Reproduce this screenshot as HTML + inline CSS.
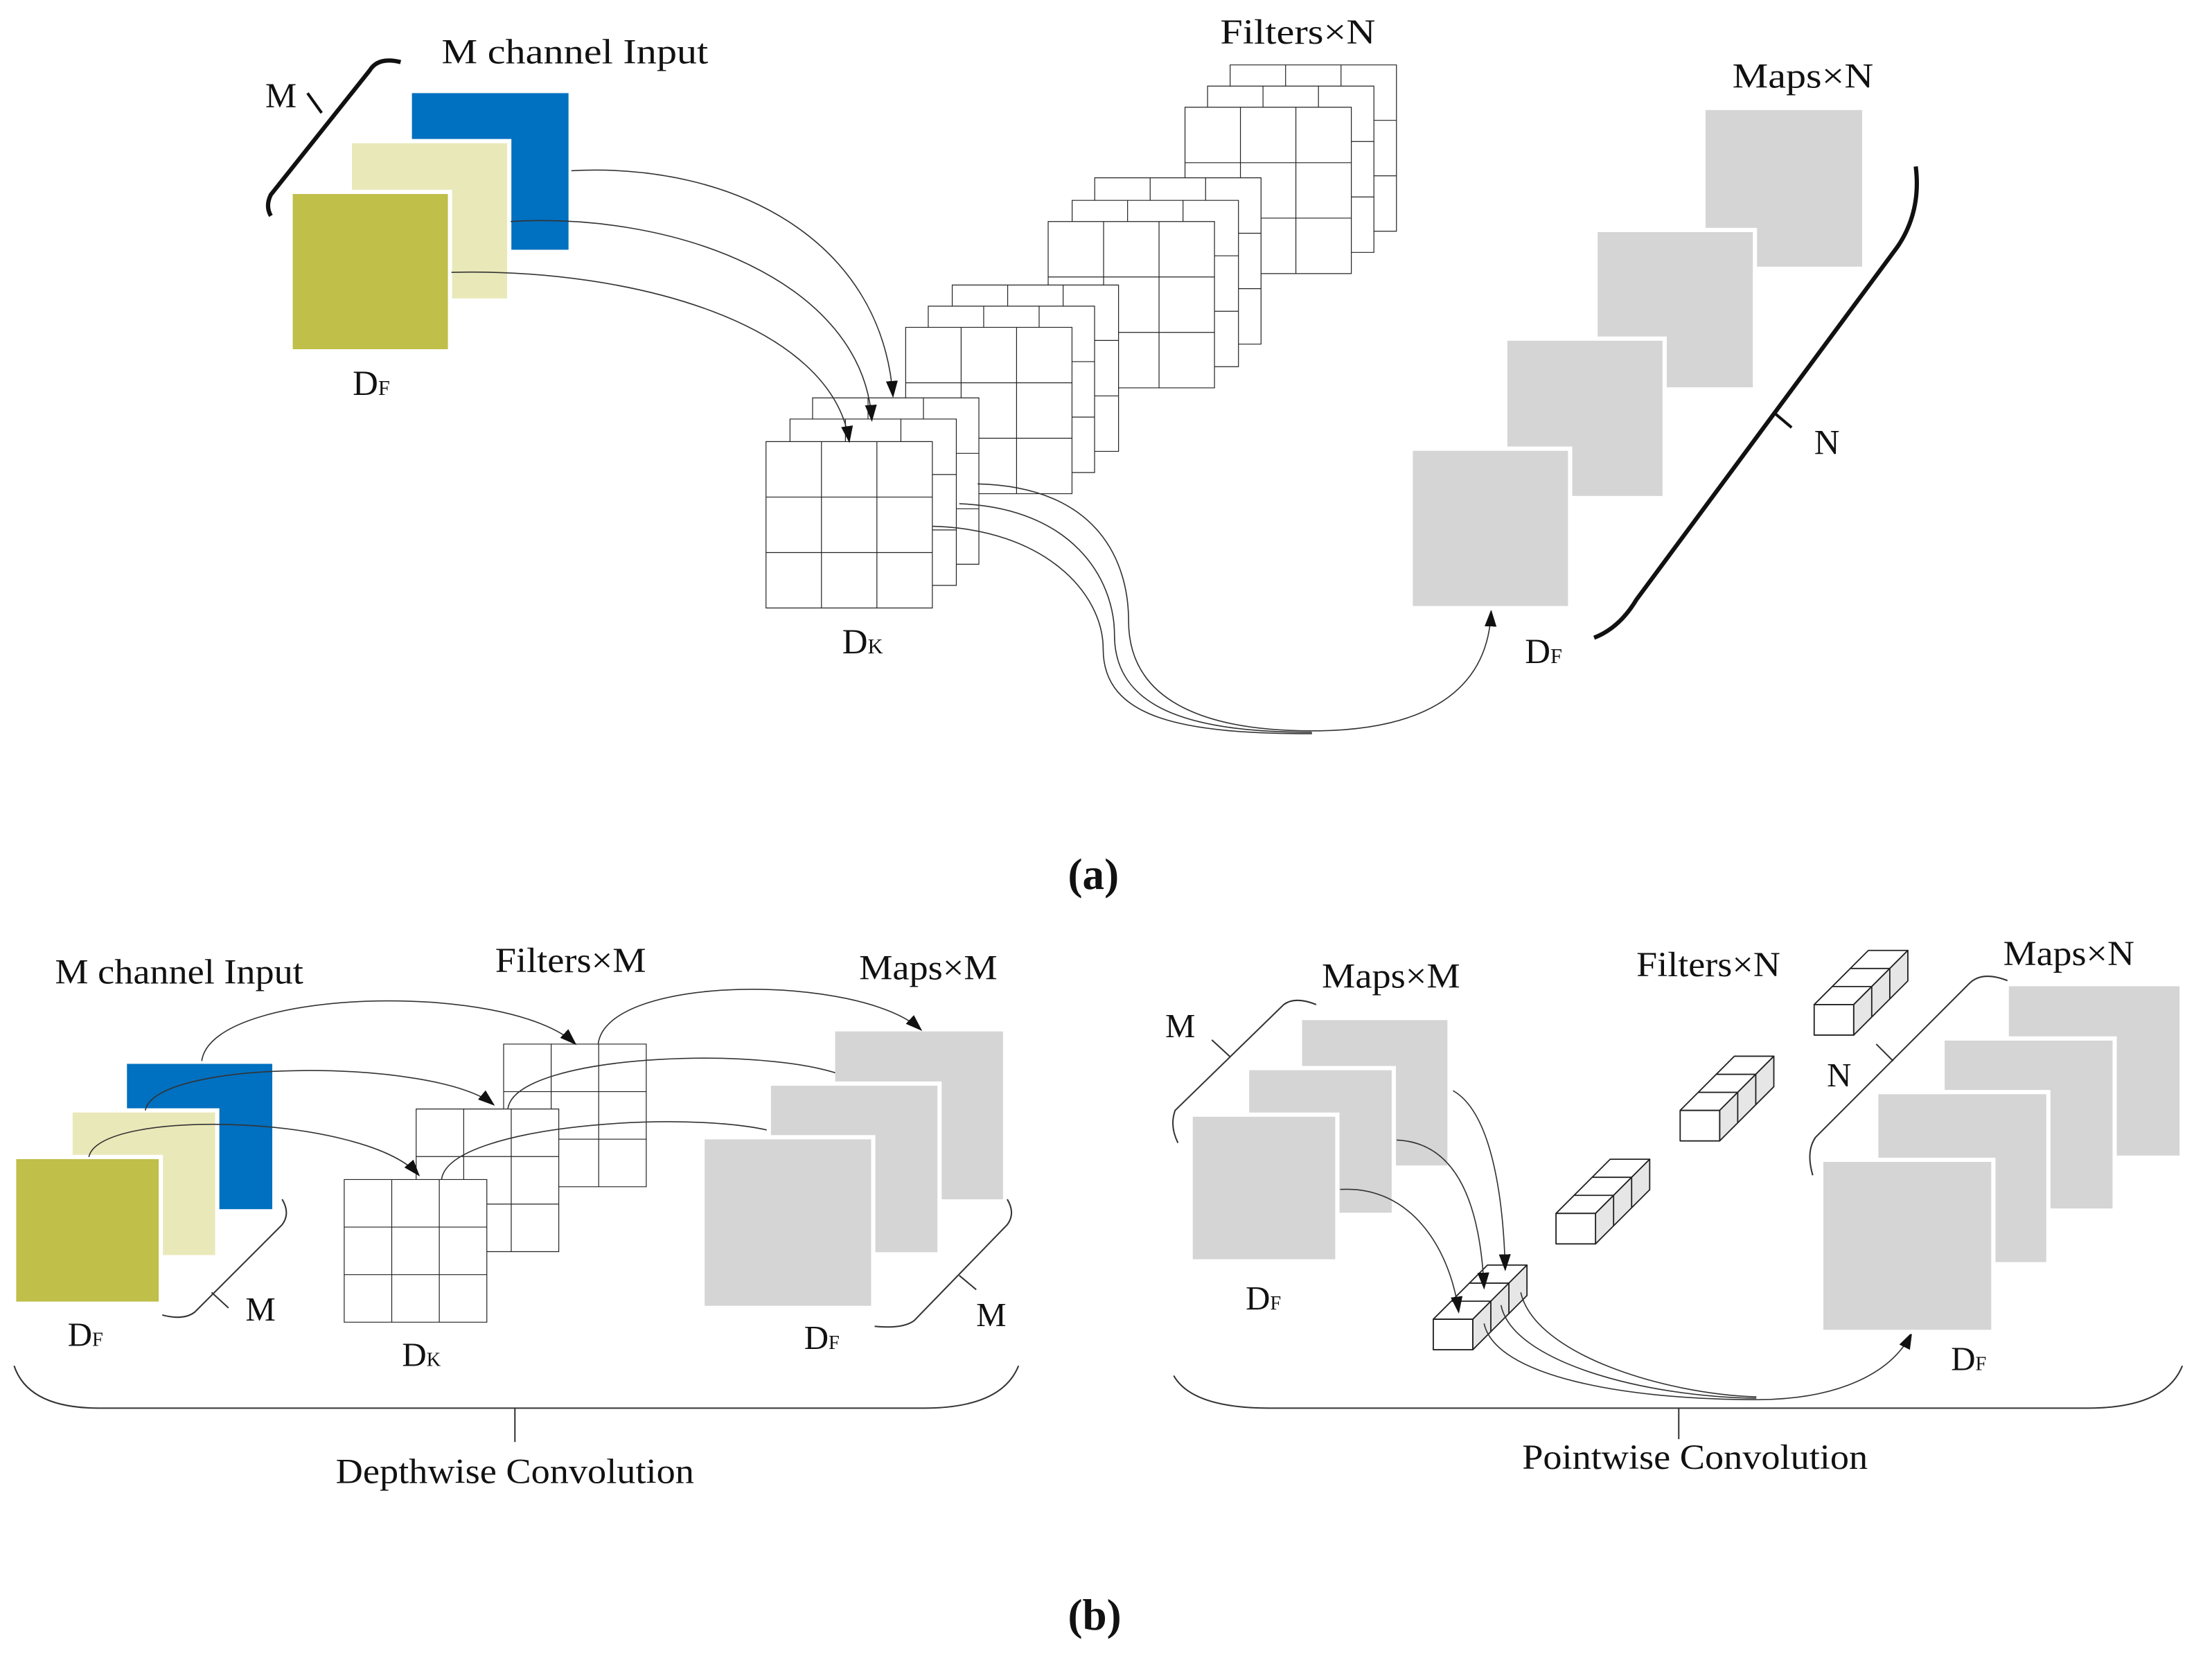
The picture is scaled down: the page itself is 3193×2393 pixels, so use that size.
<!DOCTYPE html>
<html><head><meta charset="utf-8"><style>
html,body{margin:0;padding:0;background:#fff;}
svg{display:block;}
text{font-family:"Liberation Serif","DejaVu Serif",serif;fill:#111;}
</style></head><body>
<svg width="3193" height="2393" viewBox="0 0 1568 1175.1" preserveAspectRatio="none" xmlns="http://www.w3.org/2000/svg" font-family="Liberation Serif, DejaVu Serif, serif">
<defs>
<g id="g3">
<rect x="0" y="0" width="3" height="3" fill="#fff" stroke="#222" stroke-width="1.2" vector-effect="non-scaling-stroke"/>
<path d="M1 0V3M2 0V3M0 1H3M0 2H3" stroke="#222" stroke-width="1.2" fill="none" vector-effect="non-scaling-stroke"/>
</g>
<g id="bar" stroke="#222" stroke-width="0.9" stroke-linejoin="round">
<path d="M0 0L38.4 -38.4H66.4L28 0Z" fill="#fff"/>
<path d="M28 0L66.4 -38.4V-16.8L28 21.6Z" fill="#e6e6e6"/>
<path d="M0 0H28V21.6H0Z" fill="#fff"/>
<path d="M12.8 -12.8H40.8V8.8M25.6 -25.6H53.6V-4" fill="none"/>
</g>
<marker id="ar" markerWidth="12" markerHeight="10" refX="11" refY="5" orient="auto" markerUnits="userSpaceOnUse">
<path d="M0 0.8L12 5L0 9.2Z" fill="#111"/>
</marker>
</defs>

<!-- ===== (a) ===== -->
<rect x="292" y="66" width="111" height="111" fill="#0070c0"/>
<rect x="248" y="100" width="113" height="113" fill="#e9e8b9" stroke="#fff" stroke-width="3"/>
<rect x="206" y="136" width="113" height="113" fill="#bfbf4a" stroke="#fff" stroke-width="3"/>
<path d="M284 44Q268 40 262 50L192 138Q188 146 192 153" fill="none" stroke="#111" stroke-width="3"/>
<path d="M218 66L228 80" stroke="#111" stroke-width="2"/>
<text x="188" y="76" font-size="25">M</text>
<text x="313" y="45" font-size="25" textLength="189" lengthAdjust="spacingAndGlyphs">M channel Input</text>
<text x="250" y="280" font-size="25">D<tspan font-size="15">F</tspan></text>

<use href="#g3" transform="translate(872,46) scale(39.3)"/>
<use href="#g3" transform="translate(856,61) scale(39.3)"/>
<use href="#g3" transform="translate(840,76) scale(39.3)"/>
<use href="#g3" transform="translate(776,126) scale(39.3)"/>
<use href="#g3" transform="translate(760,142) scale(39.3)"/>
<use href="#g3" transform="translate(743,157) scale(39.3)"/>
<use href="#g3" transform="translate(675,202) scale(39.3)"/>
<use href="#g3" transform="translate(658,217) scale(39.3)"/>
<use href="#g3" transform="translate(642,232) scale(39.3)"/>
<use href="#g3" transform="translate(576,282) scale(39.3)"/>
<use href="#g3" transform="translate(560,297) scale(39.3)"/>
<use href="#g3" transform="translate(543,313) scale(39.3)"/>
<text x="865" y="31" font-size="25" textLength="110" lengthAdjust="spacingAndGlyphs">Filters×N</text>
<text x="597" y="463" font-size="25">D<tspan font-size="15">K</tspan></text>

<g fill="none" stroke="#333" stroke-width="0.8" marker-end="url(#ar)">
<path d="M405 121C520 115 625 170 633 281"/>
<path d="M362 157C480 150 612 200 618 298"/>
<path d="M320 193C450 190 590 230 602 313"/>
</g>

<g fill="none" stroke="#333" stroke-width="0.8">
<path d="M693 343C780 345 800 400 800 440C800 500 860 518 930 518"/>
<path d="M680 357C760 360 790 410 790 450C790 505 850 519 930 519"/>
<path d="M661 373C740 375 782 420 782 460C782 510 840 520 930 520"/>
<path d="M930 518C1010 518 1055 490 1057 433" marker-end="url(#ar)"/>
</g>

<rect x="1209" y="78" width="111" height="111" fill="#d4d5d4"/>
<rect x="1131" y="163" width="113" height="113" fill="#d4d5d4" stroke="#fff" stroke-width="3"/>
<rect x="1067" y="240" width="113" height="113" fill="#d4d5d4" stroke="#fff" stroke-width="3"/>
<rect x="1000" y="318" width="113" height="113" fill="#d4d5d4" stroke="#fff" stroke-width="3"/>
<text x="1228" y="62" font-size="25" textLength="100" lengthAdjust="spacingAndGlyphs">Maps×N</text>
<path d="M1358 118Q1362 150 1345 175L1160 425Q1148 445 1130 452" fill="none" stroke="#111" stroke-width="3"/>
<path d="M1257 292L1270 303" stroke="#111" stroke-width="2"/>
<text x="1286" y="322" font-size="25">N</text>
<text x="1081" y="470" font-size="25">D<tspan font-size="15">F</tspan></text>

<text x="757" y="630" font-size="31" font-weight="bold">(a)</text>

<!-- ===== (b) left ===== -->
<text x="39" y="697" font-size="25" textLength="176" lengthAdjust="spacingAndGlyphs">M channel Input</text>
<rect x="90" y="754" width="103" height="103" fill="#0070c0"/>
<rect x="50" y="787" width="104" height="104" fill="#e9e8b9" stroke="#fff" stroke-width="3"/>
<rect x="10" y="820" width="104" height="104" fill="#bfbf4a" stroke="#fff" stroke-width="3"/>
<path d="M200 850Q206 860 200 868L138 930Q130 936 115 932" fill="none" stroke="#333" stroke-width="1"/>
<path d="M150 916L162 927" stroke="#333" stroke-width="1"/>
<text x="174" y="936" font-size="24">M</text>
<text x="48" y="954" font-size="24">D<tspan font-size="14">F</tspan></text>

<use href="#g3" transform="translate(357,740) scale(33.7)"/>
<use href="#g3" transform="translate(295,786) scale(33.7)"/>
<use href="#g3" transform="translate(244,836) scale(33.7)"/>
<text x="351" y="689" font-size="25" textLength="107" lengthAdjust="spacingAndGlyphs">Filters×M</text>
<text x="285" y="968" font-size="24">D<tspan font-size="14">K</tspan></text>

<g fill="none" stroke="#333" stroke-width="0.8" marker-end="url(#ar)">
<path d="M143 752C150 700 360 695 408 740"/>
<path d="M103 787C110 750 310 750 350 783"/>
<path d="M63 820C70 785 260 790 297 833"/>
<path d="M424 740C430 690 610 690 653 730"/>
<path d="M360 786C365 745 560 740 606 766"/>
<path d="M313 836C318 795 510 785 557 805"/>
</g>

<rect x="592" y="731" width="119" height="119" fill="#d4d5d4"/>
<rect x="545" y="768" width="121" height="121" fill="#d4d5d4" stroke="#fff" stroke-width="3"/>
<rect x="498" y="806" width="121" height="121" fill="#d4d5d4" stroke="#fff" stroke-width="3"/>
<text x="609" y="694" font-size="25" textLength="98" lengthAdjust="spacingAndGlyphs">Maps×M</text>
<path d="M714 850Q720 860 714 868L648 936Q640 942 620 940" fill="none" stroke="#333" stroke-width="1"/>
<path d="M680 904L692 914" stroke="#333" stroke-width="1"/>
<text x="692" y="940" font-size="24">M</text>
<text x="570" y="956" font-size="24">D<tspan font-size="14">F</tspan></text>

<path d="M10 968Q20 998 70 998H655Q710 998 722 968" fill="none" stroke="#333" stroke-width="1"/>
<path d="M365 998V1022" stroke="#333" stroke-width="1"/>
<text x="238" y="1051" font-size="25" textLength="254" lengthAdjust="spacingAndGlyphs">Depthwise Convolution</text>

<!-- ===== (b) right ===== -->
<text x="937" y="700" font-size="25" textLength="98" lengthAdjust="spacingAndGlyphs">Maps×M</text>
<rect x="923" y="723" width="103" height="103" fill="#d4d5d4"/>
<rect x="884" y="757" width="104" height="104" fill="#d4d5d4" stroke="#fff" stroke-width="3"/>
<rect x="844" y="790" width="104" height="104" fill="#d4d5d4" stroke="#fff" stroke-width="3"/>
<path d="M933 712Q918 706 910 712L833 787Q829 798 835 810" fill="none" stroke="#333" stroke-width="1"/>
<path d="M859 737L872 749" stroke="#333" stroke-width="1"/>
<text x="826" y="735" font-size="24">M</text>
<text x="883" y="928" font-size="24">D<tspan font-size="14">F</tspan></text>

<text x="1160" y="692" font-size="25" textLength="102" lengthAdjust="spacingAndGlyphs">Filters×N</text>
<use href="#bar" transform="translate(1286,712)"/>
<use href="#bar" transform="translate(1191,787)"/>
<use href="#bar" transform="translate(1103,860)"/>
<use href="#bar" transform="translate(1016,935)"/>
<path d="M1423 695Q1405 688 1396 697L1287 806Q1280 816 1285 833" fill="none" stroke="#333" stroke-width="1"/>
<path d="M1330 740L1342 752" stroke="#333" stroke-width="1"/>
<text x="1295" y="770" font-size="24">N</text>

<g fill="none" stroke="#333" stroke-width="0.8" marker-end="url(#ar)">
<path d="M950 843C1000 840 1028 885 1034 930"/>
<path d="M990 808C1040 810 1050 870 1052 913"/>
<path d="M1030 773C1060 790 1066 860 1067 900"/>
</g>
<g fill="none" stroke="#333" stroke-width="0.8">
<path d="M1052 938C1060 975 1150 992 1245 992"/>
<path d="M1064 925C1072 965 1165 990 1245 991"/>
<path d="M1078 916C1088 960 1180 988 1245 990"/>
<path d="M1245 992C1300 992 1340 975 1355 945" marker-end="url(#ar)"/>
</g>

<rect x="1424" y="699" width="121" height="120" fill="#d4d5d4"/>
<rect x="1377" y="736" width="122" height="122" fill="#d4d5d4" stroke="#fff" stroke-width="3"/>
<rect x="1330" y="774" width="122" height="122" fill="#d4d5d4" stroke="#fff" stroke-width="3"/>
<rect x="1291" y="822" width="122" height="122" fill="#d4d5d4" stroke="#fff" stroke-width="3"/>
<text x="1420" y="684" font-size="25" textLength="93" lengthAdjust="spacingAndGlyphs">Maps×N</text>
<text x="1383" y="971" font-size="24">D<tspan font-size="14">F</tspan></text>

<path d="M832 975Q845 998 900 998H1480Q1535 998 1547 968" fill="none" stroke="#333" stroke-width="1"/>
<path d="M1190 998V1020" stroke="#333" stroke-width="1"/>
<text x="1079" y="1041" font-size="25" textLength="245" lengthAdjust="spacingAndGlyphs">Pointwise Convolution</text>

<text x="757" y="1155" font-size="31" font-weight="bold">(b)</text>
</svg>
</body></html>
